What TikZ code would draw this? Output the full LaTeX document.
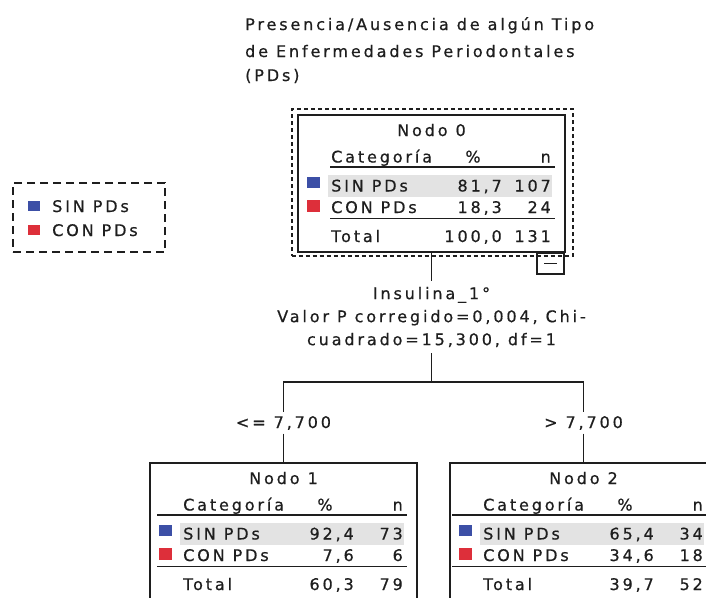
\documentclass[tikz,border=0pt]{standalone}
\usepackage{fontspec}
\setmainfont{DejaVu Sans}[LetterSpace=18,FakeBold=0.6]
\definecolor{ink}{HTML}{1E1E1E}
\definecolor{sqblue}{HTML}{3C4FA6}
\definecolor{sqred}{HTML}{DD2F3A}
\definecolor{hlgray}{HTML}{E3E3E3}
\tikzset{
  txt/.style={inner sep=0pt, text=ink, font=\fontsize{16}{23}\selectfont},
  tbox/.style={draw=ink, line width=1.5pt, minimum width=267pt, minimum height=137pt, inner sep=0pt},
  trule/.style={draw=ink, line width=1.5pt},
  conn/.style={draw=ink, line width=1.5pt},
  legbox/.style={draw=ink, line width=1.3pt, dash pattern=on 8pt off 5pt, inner sep=0pt},
  selbox/.style={draw=ink, line width=2pt, dash pattern=on 4pt off 3pt, inner sep=0pt},
}
% #1 name, #2 number, #3 sin %, #4 sin n, #5 con %, #6 con n, #7 total %, #8 total n, #9 rule start
\newcommand\pdtable[9]{%
  \fill[hlgray] (30,60) rectangle (254,82);
  \node[tbox] (#1) at (133.5,68.5) {};
  \fill[sqblue] (9,62) rectangle (22,73);
  \fill[sqred] (9,85) rectangle (22,97);
  \draw[trule] (#9,52) -- (257,52);
  \draw[trule] (#9,103.5) -- (257,103.5);
  \node[txt,anchor=base] (#1-ti) at (133.5,21) {Nodo #2};
  \node[txt,anchor=base west] (#1-hc) at (33,47.5) {Categoría};
  \node[txt,anchor=base] (#1-hp) at (175,47.5) {\%};
  \node[txt,anchor=base east] (#1-hn) at (253,47.5) {n};
  \node[txt,anchor=base west] (#1-s) at (33,76.5) {SIN PDs};
  \node[txt,anchor=base east] (#1-sp) at (204,76.5) {#3};
  \node[txt,anchor=base east] (#1-sn) at (253,76.5) {#4};
  \node[txt,anchor=base west] (#1-c) at (33,98) {CON PDs};
  \node[txt,anchor=base east] (#1-cp) at (204,98) {#5};
  \node[txt,anchor=base east] (#1-cn) at (253,98) {#6};
  \node[txt,anchor=base west] (#1-t) at (33,127) {Total};
  \node[txt,anchor=base east] (#1-tp) at (204,127) {#7};
  \node[txt,anchor=base east] (#1-tn) at (253,127) {#8};
}
\begin{document}
\begin{tikzpicture}[x=1pt,y=-1pt]
\useasboundingbox (0,0) rectangle (706,597);
\clip (0,0) rectangle (706,597);
\fill[white] (0,0) rectangle (706,597);

% title
\node[txt,anchor=base west] (title1) at (245,30) {Presencia/Ausencia de algún Tipo};
\node[txt,anchor=base west] (title2) at (245,57) {de Enfermedades Periodontales};
\node[txt,anchor=base west] (title3) at (245,81) {(PDs)};

% legend
\node[legbox, minimum width=152pt, minimum height=69pt] (leg) at (89,217.5) {};
\fill[sqblue] (28,201) rectangle (40,211);
\fill[sqred] (28,225) rectangle (40,235);
\node[txt,anchor=base west] (legsin) at (52,212) {SIN PDs};
\node[txt,anchor=base west] (legcon) at (52,236) {CON PDs};

% node 0
\node[selbox, minimum width=281pt, minimum height=147pt] (sel) at (432,182.5) {};
\begin{scope}[shift={(298,115)}]
  \pdtable{n0}{0}{81,7}{107}{18,3}{24}{100,0}{131}{32}
\end{scope}
\node[draw=ink, line width=1.5pt, minimum width=27pt, minimum height=21pt, inner sep=0pt] (tog) at (550.5,263.5) {};
\draw[ink, line width=1.5pt] (544,263.5) -- (557,263.5);

% split
\node[txt, align=center, minimum height=72pt] (split) at (431.5,317)
  {Insulina\_1°\\Valor P corregido=0,004, Chi-\\cuadrado=15,300, df=1};
\coordinate (j) at (431.5,382);
\node[txt, minimum height=21pt] (l1) at (283.5,423) {<= 7,700};
\node[txt, minimum height=21pt] (l2) at (583.5,423) {> 7,700};

% child nodes
\begin{scope}[shift={(150,463)}]
  \pdtable{n1}{1}{92,4}{73}{7,6}{6}{60,3}{79}{7}
\end{scope}
\begin{scope}[shift={(450,463)}]
  \pdtable{n2}{2}{65,4}{34}{34,6}{18}{39,7}{52}{2}
\end{scope}

% connectors
\draw[conn] (n0.south) -- (split.north);
\draw[conn] (split.south) -- (j);
\draw[conn] (j) -| (l1.north);
\draw[conn] (j) -| (l2.north);
\draw[conn] (l1.south) -- (l1.south |- n1.north);
\draw[conn] (l2.south) -- (l2.south |- n2.north);
\end{tikzpicture}
\end{document}
